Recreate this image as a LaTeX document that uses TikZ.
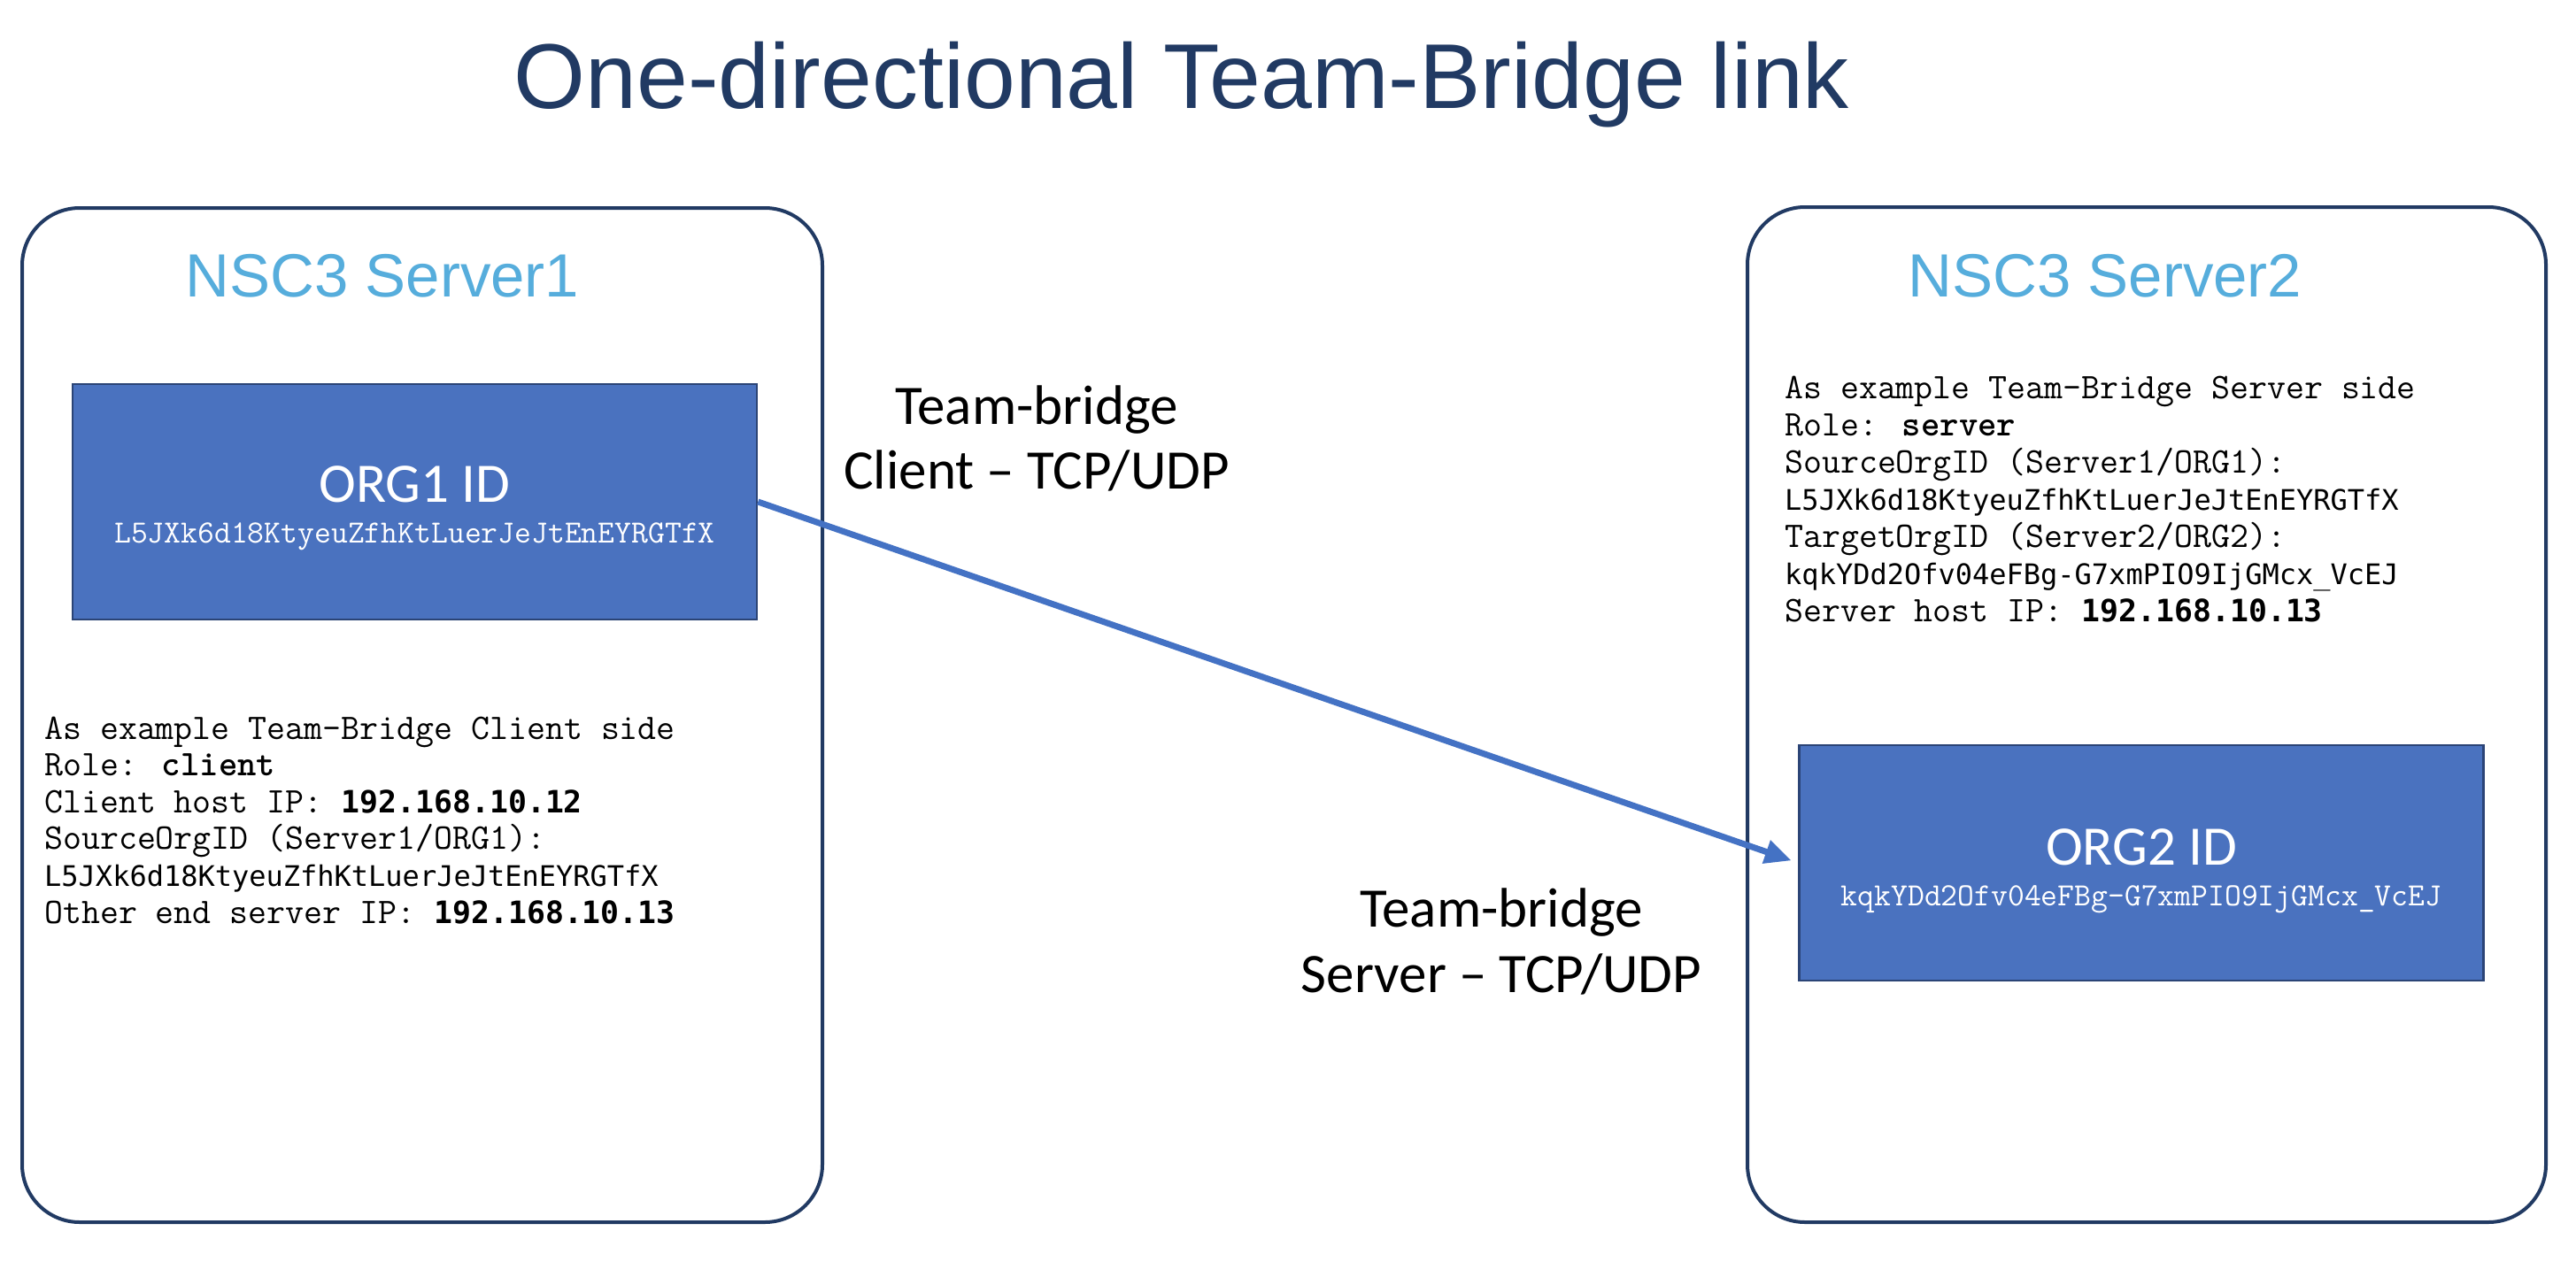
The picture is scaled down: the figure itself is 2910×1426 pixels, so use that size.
\documentclass[tikz,border=0pt]{standalone}
\usepackage{fontspec}
\usetikzlibrary{arrows.meta}
\newfontfamily\titlefont{Liberation Sans}
\newfontfamily\calfont{Carlito}
\newfontfamily\dvmfont{DejaVu Sans Mono}
\definecolor{navy}{HTML}{213A63}
\definecolor{skyblue}{HTML}{56ADDC}
\definecolor{orgfill}{HTML}{4A72BF}
\definecolor{orgedge}{HTML}{2B4476}
\definecolor{arrowblue}{HTML}{4472C4}
\newcommand{\fsz}[1]{\fontsize{#1}{#1}\selectfont}
\begin{document}
\begin{tikzpicture}[x=1pt,y=-1pt,
  serverbox/.style={draw=navy,line width=4pt,rounded corners=65pt,fill=white,inner sep=0pt},
  orgbox/.style={draw=orgedge,line width=2.5pt,fill=orgfill,inner sep=0pt,minimum width=773pt,minimum height=266pt},
  titletext/.style={anchor=base,inner sep=0pt,text=navy,font=\titlefont\fsz{104}},
  srvtitle/.style={anchor=base,inner sep=0pt,text=skyblue,font=\titlefont\fsz{69}},
  orgname/.style={anchor=base,inner sep=0pt,text=white,font=\calfont\fsz{63}},
  orgid/.style={anchor=base,inner sep=0pt,text=white,font=\ttfamily\fsz{36.6}},
  monoline/.style={anchor=base west,inner sep=0pt,text=black,font=\ttfamily\fsz{40.7}},
  linklabel/.style={anchor=base,inner sep=0pt,text=black,font=\calfont\fsz{63}},
  linkarrow/.style={draw=arrowblue,line width=7pt,-{Triangle[length=30pt,width=26pt]},shorten >=8pt}
]
\useasboundingbox (0,0) rectangle (2910,1426);
\fill[white] (0,0) rectangle (2910,1426);

% title
\node[titletext] (title) at (1335,123) {One-directional Team-Bridge link};

% server boxes
\draw[serverbox] (25,235) rectangle (929,1381);
\draw[serverbox] (1974,234) rectangle (2876,1381);
\node[srvtitle] (s1title) at (432,335) {NSC3 Server1};
\node[srvtitle] (s2title) at (2378,335) {NSC3 Server2};

% ORG boxes
\node[orgbox] (org1) at (468.5,567) {};
\node[orgname] (org1name) at (468.5,567) {ORG1 ID};
\node[orgid] (org1id) at (468.5,613) {L5JXk6d18KtyeuZfhKtLuerJeJtEnEYRGTfX};

\node[orgbox] (org2) at (2419,975) {};
\node[orgname] (org2name) at (2419,977) {ORG2 ID};
\node[orgid] (org2id) at (2419,1023) {kqkYDd2Ofv04eFBg-G7xmPIO9IjGMcx\_VcEJ};

% client text
\node[monoline] (c1) at (50,835) {As example Team-Bridge Client side};
\node[monoline] (c2) at (50,876.6) {Role: {\bfseries client}};
\node[monoline] (c3) at (50,918.2) {Client host IP: {\dvmfont\fsz{34.8}\bfseries 192.168.10.12}};
\node[monoline] (c4) at (50,959.8) {SourceOrgID (Server1/ORG1):};
\node[monoline] (c5) at (50,1001.4) {{\dvmfont\fsz{32}L5JXk6d18KtyeuZfhKtLuerJeJtEnEYRGTfX}};
\node[monoline] (c6) at (50,1043) {Other end server IP: {\dvmfont\fsz{34.8}\bfseries 192.168.10.13}};

% server text
\node[monoline] (r1) at (2016,450) {As example Team-Bridge Server side};
\node[monoline] (r2) at (2016,492) {Role: {\bfseries server}};
\node[monoline] (r3) at (2016,534) {SourceOrgID (Server1/ORG1):};
\node[monoline] (r4) at (2016,576) {{\dvmfont\fsz{32}L5JXk6d18KtyeuZfhKtLuerJeJtEnEYRGTfX}};
\node[monoline] (r5) at (2016,618) {TargetOrgID (Server2/ORG2):};
\node[monoline] (r6) at (2016,660) {{\dvmfont\fsz{32}kqkYDd2Ofv04eFBg-G7xmPIO9IjGMcx\_VcEJ}};
\node[monoline] (r7) at (2016,702) {Server host IP: {\dvmfont\fsz{34.8}\bfseries 192.168.10.13}};

% link labels
\node[linklabel] (cl1) at (1171,479) {Team-bridge};
\node[linklabel] (cl2) at (1171,552) {Client – TCP/UDP};
\node[linklabel] (sl1) at (1696,1047) {Team-bridge};
\node[linklabel] (sl2) at (1696,1121) {Server – TCP/UDP};

% arrow
\draw[linkarrow] (org1.east) -- (org2.west);
\end{tikzpicture}
\end{document}
